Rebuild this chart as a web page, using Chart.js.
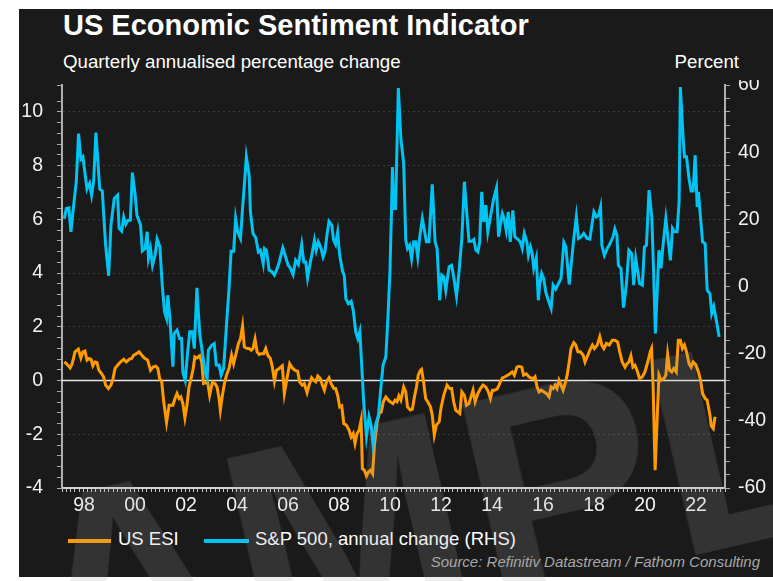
<!DOCTYPE html>
<html>
<head>
<meta charset="utf-8">
<script src="https://cdn.jsdelivr.net/npm/chart.js@4.4.0/dist/chart.umd.min.js"></script>
<style>
  body { margin: 0; width: 773px; height: 581px; overflow: hidden; position: relative; background: #fff;
         font-family: 'Liberation Sans', Arial, sans-serif; }
  #panel { position: absolute; left: 19px; top: 9px; width: 754px; height: 568px; background: #1a1a1a; }
  .txt { position: absolute; color: #fff; line-height: 1; white-space: nowrap; }
  #title { left: 63px; top: 11px; font-size: 29px; font-weight: bold; }
  #sub { left: 63px; top: 52.5px; font-size: 18.7px; }
  #pct { right: 34px; top: 52.5px; font-size: 18.7px; }
  #wrap { position: absolute; left: 19px; top: 80px; width: 754px; height: 440px; }
  .key { position: absolute; top: 539px; height: 4px; }
  .lab { top: 529.5px; font-size: 18.5px; }
  #src { right: 13px; top: 554px; font-size: 15px; font-style: italic; color: #a8a8a8; }
  #mark { position: absolute; left: -140px; top: 502px; font-size: 290px; line-height: 1; font-weight: bold;
          white-space: nowrap; color: rgba(163,163,163,0.18); transform-origin: 0 245px;
          transform: rotate(-13deg); pointer-events: none; }
</style>
</head>
<body>
<div id="panel"></div>
<div class="txt" id="title">US Economic Sentiment Indicator</div>
<div class="txt" id="sub">Quarterly annualised percentage change</div>
<div class="txt" id="pct">Percent</div>
<div id="wrap"><canvas id="chart"></canvas></div>
<div class="key" style="left:68px;width:43px;background:#ff9a00"></div>
<div class="txt lab" style="left:118px">US ESI</div>
<div class="key" style="left:204px;width:45px;background:#00c4f4"></div>
<div class="txt lab" style="left:255px">S&amp;P 500, annual change (RHS)</div>
<div class="txt" id="src">Source: Refinitiv Datastream / Fathom Consulting</div>
<div id="mark">SAMPLE</div>

<script>
// US ESI (left axis), decimal years
const esiDates = [
  1997.09, 1997.17, 1997.32, 1997.40, 1997.51, 1997.64, 1997.74, 1997.82, 1997.90, 1997.98,
  1998.06, 1998.14, 1998.21, 1998.29, 1998.37, 1998.45, 1998.55, 1998.63, 1998.71, 1998.82,
  1998.92, 1999.00, 1999.08, 1999.18, 1999.29, 1999.42, 1999.52, 1999.63, 1999.73, 1999.81,
  1999.92, 2000.02, 2000.13, 2000.23, 2000.36, 2000.47, 2000.57, 2000.68, 2000.76, 2000.83,
  2000.91, 2000.99, 2001.10, 2001.20, 2001.35, 2001.43, 2001.51, 2001.59, 2001.66, 2001.74,
  2001.82, 2001.90, 2001.98, 2002.06, 2002.14, 2002.21, 2002.29, 2002.40, 2002.48, 2002.55,
  2002.63, 2002.71, 2002.79, 2002.90, 2003.00, 2003.08, 2003.16, 2003.21, 2003.29, 2003.37,
  2003.45, 2003.55, 2003.65, 2003.73, 2003.81, 2003.92, 2004.00, 2004.08, 2004.15, 2004.26,
  2004.34, 2004.42, 2004.49, 2004.57, 2004.65, 2004.73, 2004.81, 2004.91, 2004.99, 2005.07,
  2005.17, 2005.25, 2005.33, 2005.41, 2005.52, 2005.64, 2005.72, 2005.82, 2005.93, 2006.03,
  2006.14, 2006.24, 2006.32, 2006.42, 2006.50, 2006.61, 2006.69, 2006.79, 2006.87, 2006.95,
  2007.03, 2007.13, 2007.21, 2007.29, 2007.37, 2007.47, 2007.55, 2007.66, 2007.73, 2007.81,
  2007.89, 2007.97, 2008.05, 2008.15, 2008.26, 2008.34, 2008.42, 2008.49, 2008.57, 2008.65,
  2008.73, 2008.78, 2008.86, 2008.94, 2009.02, 2009.10, 2009.18, 2009.25, 2009.36, 2009.44,
  2009.52, 2009.60, 2009.70, 2009.80, 2009.87, 2009.98, 2010.06, 2010.14, 2010.21, 2010.29,
  2010.40, 2010.48, 2010.55, 2010.66, 2010.74, 2010.82, 2010.90, 2010.97, 2011.05, 2011.10,
  2011.18, 2011.26, 2011.34, 2011.45, 2011.52, 2011.60, 2011.68, 2011.79, 2011.86, 2011.97,
  2012.10, 2012.21, 2012.28, 2012.36, 2012.44, 2012.52, 2012.60, 2012.68, 2012.78, 2012.86,
  2012.96, 2013.04, 2013.12, 2013.20, 2013.31, 2013.41, 2013.51, 2013.62, 2013.72, 2013.80,
  2013.88, 2013.96, 2014.06, 2014.14, 2014.19, 2014.27, 2014.37, 2014.48, 2014.58, 2014.66,
  2014.74, 2014.84, 2014.92, 2015.03, 2015.10, 2015.21, 2015.31, 2015.39, 2015.47, 2015.55,
  2015.63, 2015.71, 2015.79, 2015.89, 2015.99, 2016.10, 2016.18, 2016.26, 2016.34, 2016.41,
  2016.49, 2016.57, 2016.65, 2016.73, 2016.81, 2016.89, 2016.96, 2017.07, 2017.15, 2017.23,
  2017.33, 2017.44, 2017.51, 2017.62, 2017.70, 2017.80, 2017.88, 2017.99, 2018.09, 2018.17,
  2018.25, 2018.35, 2018.46, 2018.58, 2018.68, 2018.79, 2018.87, 2018.97, 2019.08, 2019.16,
  2019.23, 2019.31, 2019.39, 2019.47, 2019.55, 2019.65, 2019.76, 2019.86, 2019.97, 2020.07,
  2020.12, 2020.18, 2020.26, 2020.34, 2020.41, 2020.49, 2020.60, 2020.68, 2020.75, 2020.83,
  2020.91, 2020.99, 2021.09, 2021.17, 2021.25, 2021.33, 2021.41, 2021.49, 2021.59, 2021.67,
  2021.75, 2021.85, 2021.96, 2022.04, 2022.12, 2022.22, 2022.30, 2022.41, 2022.46, 2022.54,
  2022.61
];
const esiValues = [
  0.69, 0.63, 0.47, 0.63, 1.07, 1.17, 0.84, 1.07, 1.10, 0.76,
  0.82, 0.79, 0.55, 0.69, 0.67, 0.38, 0.26, 0.14, -0.17, -0.30,
  -0.17, 0.07, 0.45, 0.57, 0.69, 0.79, 0.69, 0.79, 0.82, 0.94,
  1.00, 1.07, 0.94, 0.84, 0.76, 0.38, 0.50, 0.53, 0.45, 0.07,
  -0.05, -0.80, -1.56, -0.92, -0.92, -0.67, -0.48, -0.67, -0.61, -0.86,
  -1.39, -0.92, -0.24, 0.07, 0.42, 0.88, 0.84, 0.92, 0.69, -0.11,
  -0.09, -0.05, -0.55, -0.05, -0.11, -0.24, -0.67, -1.10, -0.55, -0.11,
  0.20, 0.45, 0.94, 0.63, 0.94, 1.38, 1.56, 2.03, 1.25, 1.19,
  1.19, 1.13, 1.19, 1.54, 1.07, 0.97, 1.00, 1.00, 1.19, 0.94,
  0.82, 0.50, -0.02, 0.38, 0.45, 0.55, -0.48, 0.07, 0.63, 0.47,
  0.38, 0.35, -0.05, -0.17, -0.11, -0.45, -0.17, 0.10, 0.01, -0.05,
  0.17, 0.07, -0.17, -0.36, -0.05, 0.10, -0.11, -0.30, -0.30, -0.55,
  -0.98, -0.94, -1.60, -1.66, -1.85, -2.10, -1.97, -2.34, -1.97, -1.85,
  -1.48, -3.28, -3.34, -3.55, -3.40, -3.34, -3.47, -2.41, -1.54, -1.23,
  -1.17, -0.79, -0.61, -0.73, -0.79, -0.86, -0.73, -0.79, -0.57, -0.73,
  -0.24, -0.42, -0.98, -1.10, -1.07, -0.61, -0.24, 0.20, 0.38, 0.42,
  -0.05, -0.67, -0.79, -0.98, -1.29, -2.03, -1.66, -1.54, -1.04, -0.55,
  -0.17, -0.30, -0.30, -0.79, -1.10, -1.17, -1.23, -0.42, -0.55, -0.92,
  -0.86, -0.61, -0.36, -0.79, -0.48, -0.30, -0.17, -0.24, -0.42, -0.67,
  -0.36, -0.36, -0.32, -0.17, -0.05, 0.10, 0.14, 0.20, 0.26, 0.32,
  0.20, 0.50, 0.53, 0.50, 0.20, 0.25, 0.14, 0.10, 0.07, 0.14,
  -0.24, -0.42, -0.36, -0.42, -0.48, -0.61, -0.24, -0.30, -0.17, -0.30,
  0.01, -0.17, -0.36, -0.11, 0.20, 0.69, 1.19, 1.41, 1.32, 1.07,
  1.07, 0.94, 0.69, 0.94, 1.13, 1.32, 1.19, 1.32, 1.63, 1.32,
  1.19, 1.38, 1.32, 1.50, 1.50, 1.44, 1.07, 0.69, 0.50, 0.63,
  0.69, 0.92, 0.50, 0.57, 0.38, 0.07, 0.14, 0.32, 0.69, 1.07,
  1.19, -0.17, -3.34, -1.41, 0.20, 0.01, 0.07, 0.20, 0.97, 0.38,
  0.32, 0.45, 0.32, 1.50, 1.50, 1.19, 1.32, 1.07, 0.63, 0.50,
  0.69, 0.59, 0.32, 0.01, -0.48, -0.67, -0.73, -1.29, -1.69, -1.79,
  -1.35
];

// S&P 500 annual % change (right axis), decimal years
const spxDates = [
  1997.09, 1997.17, 1997.27, 1997.35, 1997.43, 1997.56, 1997.65, 1997.74, 1997.82, 1997.98,
  1998.08, 1998.16, 1998.24, 1998.33, 1998.48, 1998.58, 1998.71, 1998.83, 1998.92, 1999.05,
  1999.18, 1999.24, 1999.34, 1999.42, 1999.50, 1999.59, 1999.68, 1999.76, 1999.87, 1999.94,
  2000.08, 2000.15, 2000.26, 2000.34, 2000.39, 2000.47, 2000.55, 2000.65, 2000.73, 2000.84,
  2000.93, 2001.02, 2001.10, 2001.15, 2001.23, 2001.35, 2001.40, 2001.51, 2001.61, 2001.69,
  2001.74, 2001.83, 2001.93, 2002.01, 2002.11, 2002.19, 2002.29, 2002.40, 2002.50, 2002.61,
  2002.69, 2002.74, 2002.87, 2002.97, 2003.05, 2003.16, 2003.24, 2003.34, 2003.45, 2003.55,
  2003.63, 2003.73, 2003.81, 2003.89, 2004.00, 2004.08, 2004.15, 2004.23, 2004.34, 2004.39,
  2004.49, 2004.60, 2004.70, 2004.78, 2004.89, 2004.94, 2005.02, 2005.12, 2005.23, 2005.33,
  2005.44, 2005.52, 2005.66, 2005.77, 2005.87, 2005.95, 2006.06, 2006.16, 2006.27, 2006.40,
  2006.48, 2006.56, 2006.63, 2006.74, 2006.82, 2006.90, 2006.97, 2007.05, 2007.16, 2007.24,
  2007.31, 2007.39, 2007.47, 2007.58, 2007.65, 2007.73, 2007.81, 2007.89, 2008.00, 2008.07,
  2008.13, 2008.23, 2008.34, 2008.42, 2008.52, 2008.60, 2008.68, 2008.76, 2008.83, 2008.94,
  2009.04, 2009.12, 2009.20, 2009.31, 2009.41, 2009.49, 2009.59, 2009.70, 2009.78, 2009.86,
  2009.92, 2009.96, 2010.00, 2010.08, 2010.19, 2010.29, 2010.40, 2010.48, 2010.55, 2010.63,
  2010.71, 2010.79, 2010.87, 2010.95, 2011.03, 2011.13, 2011.21, 2011.29, 2011.39, 2011.52,
  2011.63, 2011.71, 2011.81, 2011.89, 2011.97, 2012.05, 2012.18, 2012.28, 2012.36, 2012.47,
  2012.57, 2012.68, 2012.78, 2012.89, 2012.96, 2013.07, 2013.15, 2013.23, 2013.31, 2013.38,
  2013.46, 2013.54, 2013.62, 2013.70, 2013.80, 2013.93, 2014.04, 2014.12, 2014.19, 2014.27,
  2014.34, 2014.42, 2014.50, 2014.58, 2014.68, 2014.76, 2014.87, 2014.97, 2015.05, 2015.13,
  2015.23, 2015.29, 2015.37, 2015.44, 2015.50, 2015.60, 2015.68, 2015.73, 2015.81, 2015.89,
  2015.97, 2016.07, 2016.18, 2016.26, 2016.36, 2016.47, 2016.57, 2016.68, 2016.76, 2016.89,
  2016.96, 2017.07, 2017.17, 2017.25, 2017.36, 2017.46, 2017.59, 2017.70, 2017.78, 2017.86,
  2017.96, 2018.04, 2018.12, 2018.17, 2018.27, 2018.38, 2018.46, 2018.61, 2018.68, 2018.76,
  2018.82, 2018.92, 2019.02, 2019.13, 2019.23, 2019.34, 2019.42, 2019.50, 2019.58, 2019.65,
  2019.76, 2019.84, 2019.92, 2020.02, 2020.13, 2020.20, 2020.27, 2020.34, 2020.41, 2020.49,
  2020.57, 2020.68, 2020.75, 2020.86, 2020.94, 2021.02, 2021.12, 2021.20, 2021.25, 2021.36,
  2021.41, 2021.49, 2021.59, 2021.67, 2021.75, 2021.83, 2021.91, 2021.96, 2022.01, 2022.12,
  2022.22, 2022.30, 2022.41, 2022.48, 2022.56, 2022.67, 2022.77
];
const spxValues = [
  20.2, 23.2, 23.4, 16.3, 22.2, 31.2, 45.5, 37.9, 38.6, 29.0,
  30.7, 27.2, 31.2, 45.8, 29.0, 28.4, 12.3, 3.2, 18.3, 26.2,
  27.2, 17.3, 16.5, 20.7, 18.5, 19.7, 19.7, 33.9, 27.2, 21.2,
  18.3, 10.6, 11.3, 16.3, 8.5, 11.3, 6.3, 9.3, 14.1, 11.8,
  0.4, -7.5, -9.5, -2.6, -9.5, -23.9, -14.0, -13.0, -15.5, -15.5,
  -25.6, -27.9, -19.4, -13.5, -13.5, -18.5, -0.4, -14.0, -19.4, -25.4,
  -27.4, -19.0, -17.5, -17.0, -23.4, -23.4, -26.4, -24.4, -11.5, -0.6,
  10.5, 10.5, 20.2, 16.3, 14.3, 23.2, 30.2, 38.6, 33.1, 22.2,
  15.8, 14.5, 10.3, 10.8, 6.8, 11.3, 10.8, 4.9, 4.4, 3.4,
  5.4, 7.3, 11.5, 8.8, 6.3, 5.6, 3.6, 7.8, 6.5, 12.5,
  7.3, 7.3, 2.6, 7.3, 10.3, 13.8, 10.8, 13.3, 11.3, 8.8,
  10.3, 15.3, 19.4, 18.3, 13.8, 12.5, 16.1, 9.3, 4.6, 3.2,
  -3.6, -5.1, -4.4, -7.0, -13.5, -15.5, -13.3, -24.4, -34.3, -44.7,
  -38.8, -41.3, -47.2, -40.8, -38.3, -31.3, -23.4, -20.9, -9.5, 4.4,
  22.2, 35.6, 23.2, 23.2, 59.1, 44.0, 36.6, 13.8, 11.3, 12.3,
  8.3, 13.3, 13.3, 8.8, 14.8, 20.2, 16.8, 13.3, 13.3, 30.4,
  13.3, 11.3, -4.1, 3.4, 2.9, -1.1, 5.9, 6.3, 2.9, -2.8,
  4.4, 14.3, 31.2, 20.2, 13.5, 13.5, 14.0, 10.8, 10.3, 13.3,
  28.2, 19.2, 24.2, 16.3, 20.7, 26.2, 29.4, 14.8, 18.3, 21.7,
  20.2, 16.8, 22.2, 13.3, 22.7, 14.8, 14.1, 13.3, 11.3, 15.8,
  13.3, 9.3, 11.8, 9.8, 5.4, 8.5, -4.1, 0.4, 3.9, 2.4,
  -1.6, -4.1, -6.5, 0.4, -0.8, 0.9, 2.4, 13.1, 11.8, 0.6,
  5.9, 14.3, 20.7, 14.3, 14.8, 15.8, 14.3, 14.1, 18.3, 22.2,
  20.7, 21.2, 23.7, 12.3, 9.3, 11.3, 12.3, 14.8, 17.1, 15.3,
  6.3, 5.4, -6.3, 0.4, 10.8, 9.8, 0.4, 8.3, 4.4, 0.9,
  0.4, 11.8, 12.3, 28.7, 20.7, 4.4, -14.0, -1.6, 10.8, 5.4,
  12.3, 20.2, 15.3, 7.8, 17.3, 16.3, 16.3, 25.2, 59.4, 44.0,
  38.6, 38.6, 32.1, 28.4, 28.4, 39.1, 23.7, 28.2, 23.2, 13.3,
  12.8, -1.1, -2.1, -8.0, -6.0, -10.5, -15.0
];

// axis ranges and tick labelling
const yLeftRange = [-4, 11];
const yRightRange = [-60, 60];
const xRange = [1997, 2023];

const toPoints = (xs, ys) => xs.map((x, i) => ({ x: x, y: ys[i] }));
const isMultiple = (v, m) => Math.abs(v / m - Math.round(v / m)) < 1e-6;

Chart.defaults.font.family = "'Liberation Sans', Arial, sans-serif";
Chart.defaults.color = '#f2f2f2';

// solid white zero line under the series
const zeroLine = {
  id: 'zeroLine',
  beforeDatasetsDraw(chart) {
    const { ctx, chartArea, scales } = chart;
    const y = scales.y.getPixelForValue(0);
    ctx.save();
    ctx.strokeStyle = '#e6e6e6';
    ctx.lineWidth = 1.5;
    ctx.beginPath();
    ctx.moveTo(chartArea.left, y);
    ctx.lineTo(chartArea.right, y);
    ctx.stroke();
    ctx.restore();
  }
};

new Chart(document.getElementById('chart'), {
  type: 'line',
  data: {
    datasets: [{
      label: 'US ESI',
      data: toPoints(esiDates, esiValues),
      borderColor: '#ff9a00',
      borderWidth: 3,
      pointRadius: 0,
      yAxisID: 'y',
      order: 1
    }, {
      label: 'S&P 500, annual change (RHS)',
      data: toPoints(spxDates, spxValues),
      borderColor: '#00c4f4',
      borderWidth: 3,
      pointRadius: 0,
      yAxisID: 'y2',
      order: 0
    }]
  },
  options: {
    responsive: true,
    maintainAspectRatio: false,
    animation: false,
    layout: { padding: { top: 5, left: 0, right: 0, bottom: 0 } },
    plugins: { legend: { display: false }, tooltip: { enabled: false } },
    scales: {
      x: {
        type: 'linear',
        min: xRange[0],
        max: xRange[1],
        ticks: {
          stepSize: 1 / 6,
          autoSkip: false,
          maxRotation: 0,
          minRotation: 0,
          padding: 2,
          labelOffset: -3.5,
          font: { size: 19.5 },
          callback: (v) => {
            const r = Math.round(v);
            return (Math.abs(v - r) < 0.01 && r % 2 === 0) ? String(r % 100).padStart(2, '0') : '';
          }
        },
        grid: { drawOnChartArea: false, tickLength: 4, tickColor: '#c8c8c8', tickWidth: 1 },
        border: { color: '#d4d4d4', width: 2 },
        afterFit: (s) => { s.height = 32; s.paddingLeft = 0; s.paddingRight = 0; }
      },
      y: {
        position: 'left',
        min: yLeftRange[0],
        max: yLeftRange[1],
        ticks: {
          stepSize: 0.4,
          autoSkip: false,
          padding: 14,
          font: { size: 19.5 },
          callback: (v) => isMultiple(v, 2) ? String(Math.round(v)) : ''
        },
        grid: {
          color: (c) => {
            const v = c.tick.value;
            return (isMultiple(v, 2) && v !== 0 && v > yLeftRange[0]) ? '#3a3a3a' : 'rgba(0,0,0,0)';
          },
          lineWidth: 1,
          tickLength: 5,
          tickColor: '#aaaaaa',
          tickWidth: 1
        },
        border: { color: '#b0b0b0', width: 2, dash: [2, 3] },
        afterFit: (s) => { s.width = 43; s.paddingTop = 0; s.paddingBottom = 0; }
      },
      y2: {
        position: 'right',
        min: yRightRange[0],
        max: yRightRange[1],
        ticks: {
          stepSize: 4,
          autoSkip: false,
          padding: 8,
          font: { size: 19.5 },
          callback: (v) => isMultiple(v, 20) ? String(Math.round(v)) : ''
        },
        grid: { drawOnChartArea: false, tickLength: 5, tickColor: '#aaaaaa', tickWidth: 1 },
        border: { color: '#b0b0b0', width: 2 },
        afterFit: (s) => { s.width = 48; s.paddingTop = 0; s.paddingBottom = 0; }
      }
    }
  },
  plugins: [zeroLine]
});
</script>
</body>
</html>
